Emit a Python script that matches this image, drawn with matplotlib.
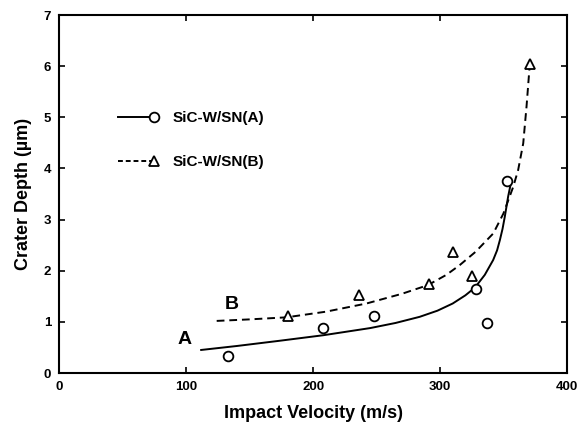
import numpy as np
import matplotlib
matplotlib.use("Agg")
import matplotlib.pyplot as plt
from matplotlib.lines import Line2D
from matplotlib.legend_handler import HandlerLine2D

plt.rcParams['font.family'] = ['Liberation Sans', 'DejaVu Sans']
plt.rcParams['font.weight'] = 'bold'

# Measured points
a_vel = [133, 208, 248, 328, 337, 353]
a_depth = [0.33, 0.89, 1.12, 1.64, 0.98, 3.76]
b_vel = [180, 236, 291, 310, 325, 371]
b_depth = [1.11, 1.52, 1.74, 2.37, 1.90, 6.04]

# Fitted curves
a_fit_vel = [111, 140, 173, 208, 245, 265, 284, 298, 310, 320, 327.5, 335.3, 341.9, 345, 347.2,
             349.3, 351.1, 353.7, 355.6]
a_fit_depth = [0.45, 0.53, 0.63, 0.74, 0.88, 0.98, 1.10, 1.22, 1.36, 1.52, 1.67, 1.92, 2.21, 2.40,
               2.60, 2.82, 3.06, 3.45, 3.68]
b_fit_vel = [124, 150, 179, 210, 242, 270, 290.5, 305, 315.5, 328, 342, 350, 357.7, 361.6, 365.6,
             368.2, 370.5]
b_fit_depth = [1.02, 1.05, 1.09, 1.20, 1.36, 1.55, 1.72, 1.92, 2.11, 2.37, 2.73, 3.12, 3.64, 3.97,
               4.49, 5.21, 5.95]

labels = ['SiC-W/SN(A)', 'SiC-W/SN(B)']
x_ticks = [0, 100, 200, 300, 400]
y_ticks = [0, 1, 2, 3, 4, 5, 6, 7]

fig = plt.figure(figsize=(5.82, 4.23), dpi=100)
ax = fig.add_axes([0.102, 0.118, 0.872, 0.8465])

lw = 1.4
ax.plot(a_fit_vel, a_fit_depth, color='black', lw=lw, solid_capstyle='butt',
        solid_joinstyle='round')
ax.plot(b_fit_vel, b_fit_depth, color='black', lw=lw, dashes=(4, 2.5))
ax.plot(a_vel, a_depth, ls='none', marker='o', ms=7, mfc='white', mec='black', mew=1.3)
ax.plot(b_vel, b_depth, ls='none', marker='^', ms=7.5, mfc='white', mec='black', mew=1.3)

ax.text(99, 0.66, 'A', fontsize=14, fontweight='bold', ha='center', va='center')
ax.text(136, 1.35, 'B', fontsize=14, fontweight='bold', ha='center', va='center')

ax.set_xlim(0, 400)
ax.set_ylim(0, 7)
ax.set_xticks(x_ticks)
ax.set_yticks(y_ticks)
ax.tick_params(direction='in', top=True, right=True, length=4, width=1.2,
               labelsize=9.5, pad=6)
for lab in ax.get_xticklabels() + ax.get_yticklabels():
    lab.set_fontweight('bold')
for s in ax.spines.values():
    s.set_linewidth(1.5)

ax.set_xlabel('Impact Velocity (m/s)', fontsize=13, fontweight='bold', labelpad=8)
ax.set_ylabel('Crater Depth (µm)', fontsize=13, fontweight='bold', labelpad=8)


class EndMarker(HandlerLine2D):
    """Legend sample: line with the marker at its right end."""
    def create_artists(self, legend, orig_handle, xdescent, ydescent,
                       width, height, fontsize, trans):
        xdata = np.array([-xdescent, -xdescent + width])
        ydata = np.full_like(xdata, (height - ydescent) / 2)
        legline = Line2D(xdata, ydata)
        self.update_prop(legline, orig_handle, legend)
        legline.set_markevery([1])
        legline.set_transform(trans)
        return [legline]


h_a = Line2D([], [], color='black', lw=lw, marker='o', ms=7, mfc='white', mec='black', mew=1.3)
h_b = Line2D([], [], color='black', lw=lw, dashes=(2.5, 1.5), marker='^', ms=7.5,
             mfc='white', mec='black', mew=1.3)
leg = ax.legend([h_a, h_b], labels, loc='upper left', bbox_to_anchor=(0.115, 0.732),
                frameon=False, fontsize=11, handlelength=2.35, handletextpad=1.24,
                labelspacing=1.98, borderpad=0, borderaxespad=0,
                handler_map={h_a: EndMarker(), h_b: EndMarker()})
for t in leg.get_texts():
    t.set_fontweight('bold')

fig.savefig('out.png', dpi=100)
